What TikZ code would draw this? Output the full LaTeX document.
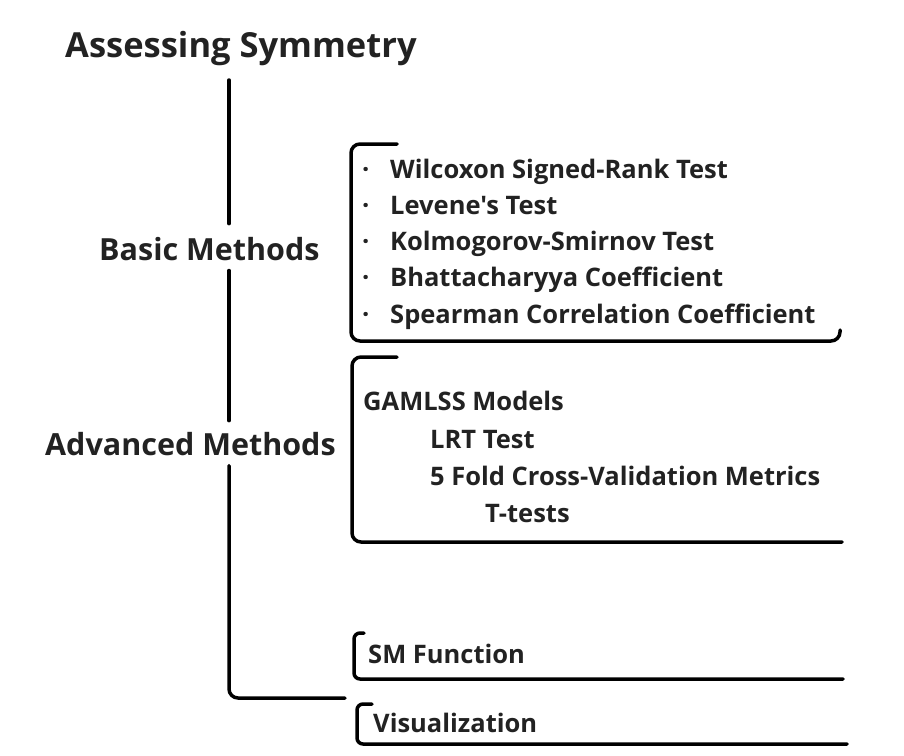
\documentclass[tikz,border=0pt]{standalone}
\usepackage{fontspec}
\setmainfont{Open Sans}[Ligatures=TeXOff]
\definecolor{ink}{HTML}{222222}

\begin{document}
\begin{tikzpicture}[x=1pt, y=-1pt, line cap=round, line join=round,
    title/.style={font=\fontsize{34.5}{40}\selectfont\bfseries, text=ink, inner sep=0pt, anchor=base west},
    head/.style={font=\fontsize{30.5}{36}\selectfont\bfseries, text=ink, inner sep=0pt, anchor=base west},
    item/.style={font=\fontsize{25.5}{30}\selectfont\bfseries, text=ink, inner sep=0pt, anchor=base west},
    trunk/.style={line width=3.5pt, rounded corners=9pt},
    brace/.style={line width=3.5pt, rounded corners=9pt}]
    \useasboundingbox (0,0) rectangle (904,755);

    % main headings
    \node[title] (title) at (65,57) {Assessing Symmetry};
    \node[head] (basic) at (99,260) {Basic Methods};
    \node[head] (advanced) at (45,455) {Advanced Methods};
    \coordinate (top) at (229,80);
    \coordinate (fork) at (345,698);

    % trunk, broken where the headings sit
    \draw[trunk] (top) -- ([yshift=13pt]basic.north -| top);
    \draw[trunk] ([yshift=-10pt]basic.south -| top) -- ([yshift=11pt]advanced.north -| top);
    \draw[trunk] ([yshift=-10pt]advanced.south -| top) |- (fork);

    % brackets
    \draw[brace] (397,144) -- (351,144) -- (351,341) -- (840,341) -- (840,330);
    \draw[brace] (397,357) -- (352,357) -- (352,542) -- (842,542);
    \draw[brace, rounded corners=6pt] (364,633) -- (354,633) -- (354,679) -- (843,679);
    \draw[brace, rounded corners=6pt] (372,704) -- (357,704) -- (357,744) -- (847,744);

    % basic tests
    \foreach \t [count=\i from 0] in {Wilcoxon Signed-Rank Test, Levene's Test,
        Kolmogorov-Smirnov Test, Bhattacharyya Coefficient, Spearman Correlation Coefficient} {
      \node[item] (dot\i) at (362,178+36.3*\i) {·};
      \node[item] (test\i) at (390,178+36.3*\i) {\t};
    }

    % advanced tests
    \node[item] (gamlss) at (363,410) {GAMLSS Models};
    \node[item] (lrt) at (430,448) {LRT Test};
    \node[item] (cv) at (430,485) {5 Fold Cross-Validation Metrics};
    \node[item] (ttest) at (485,522) {T-tests};

    \node[item] (sm) at (368,663) {SM Function};
    \node[item] (vis) at (373,732) {Visualization};
\end{tikzpicture}
\end{document}
